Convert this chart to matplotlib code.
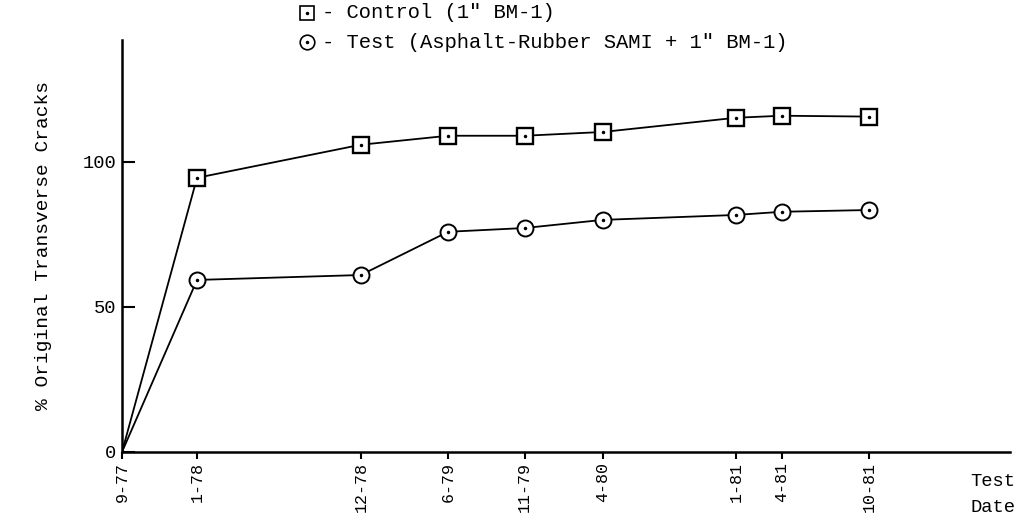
import matplotlib
matplotlib.use("Agg")
import matplotlib.pyplot as plt
from matplotlib.lines import Line2D

# Data
dates = ["9-77", "1-78", "12-78", "6-79", "11-79", "4-80", "1-81", "4-81", "10-81"]
months = [0, 4.9, 15.6, 21.3, 26.3, 31.4, 40.1, 43.1, 48.8]
control = [0, 94.5, 105.9, 109.0, 109.0, 110.3, 115.2, 115.9, 115.6]
test = [0, 59.3, 61.0, 75.9, 77.2, 80.0, 81.7, 82.8, 83.4]
yticks = [0, 50, 100]

FONT = "Liberation Mono"
plt.rcParams["font.family"] = [FONT, "DejaVu Sans Mono"]

fig = plt.figure(figsize=(10.23, 5.25), dpi=100)
ax = fig.add_axes([122 / 1023, 73 / 525, 888 / 1023, 412 / 525])

ax.plot(months, control, color="black", lw=1.3, zorder=2)
ax.plot(months, test, color="black", lw=1.3, zorder=2)
ax.plot(months[1:], control[1:], ls="none", marker="s", ms=11, mfc="white",
        mec="black", mew=1.7, zorder=3)
ax.plot(months[1:], test[1:], ls="none", marker="o", ms=11.5, mfc="white",
        mec="black", mew=1.4, zorder=3)
ax.plot(months[1:], control[1:], ls="none", marker=".", ms=3, color="black", zorder=4)
ax.plot(months[1:], test[1:], ls="none", marker=".", ms=3, color="black", zorder=4)

ax.set_xlim(0, 58.0)
ax.set_ylim(0, 142)
for s in ["top", "right"]:
    ax.spines[s].set_visible(False)
for s in ["left", "bottom"]:
    ax.spines[s].set_linewidth(1.8)

ax.set_yticks(yticks)
ax.set_yticklabels([str(v) for v in yticks], fontsize=13.5, family=FONT)
ax.tick_params(axis="y", direction="in", length=9, width=1.5, pad=4)
ax.set_xticks(months)
ax.set_xticklabels(dates, rotation=90, fontsize=12, family=FONT)
ax.tick_params(axis="x", direction="out", length=5, width=1.5, pad=2)

ax.set_ylabel("% Original Transverse Cracks", fontsize=14, family=FONT, labelpad=22)
fig.text(970 / 1023, 1 - 482 / 525, "Test", fontsize=13.5, family=FONT,
         va="center", ha="left")
fig.text(970 / 1023, 1 - 508 / 525, "Date", fontsize=13.5, family=FONT,
         va="center", ha="left")

# Legend
for yy, mk, label in [(13, "s", "- Control (1\" BM-1)"),
                      (42, "o", "- Test (Asphalt-Rubber SAMI + 1\" BM-1)")]:
    fy = 1 - yy / 525
    fig.add_artist(Line2D([307 / 1023], [fy], marker=mk, ms=10.5, mfc="white",
                          mec="black", mew=1.2, ls="none"))
    fig.add_artist(Line2D([307 / 1023], [fy], marker=".", ms=3, color="black", ls="none"))
    fig.text(322 / 1023, fy, label, fontsize=14.8, family=FONT, va="center", ha="left")

fig.savefig("out.png", dpi=100)
